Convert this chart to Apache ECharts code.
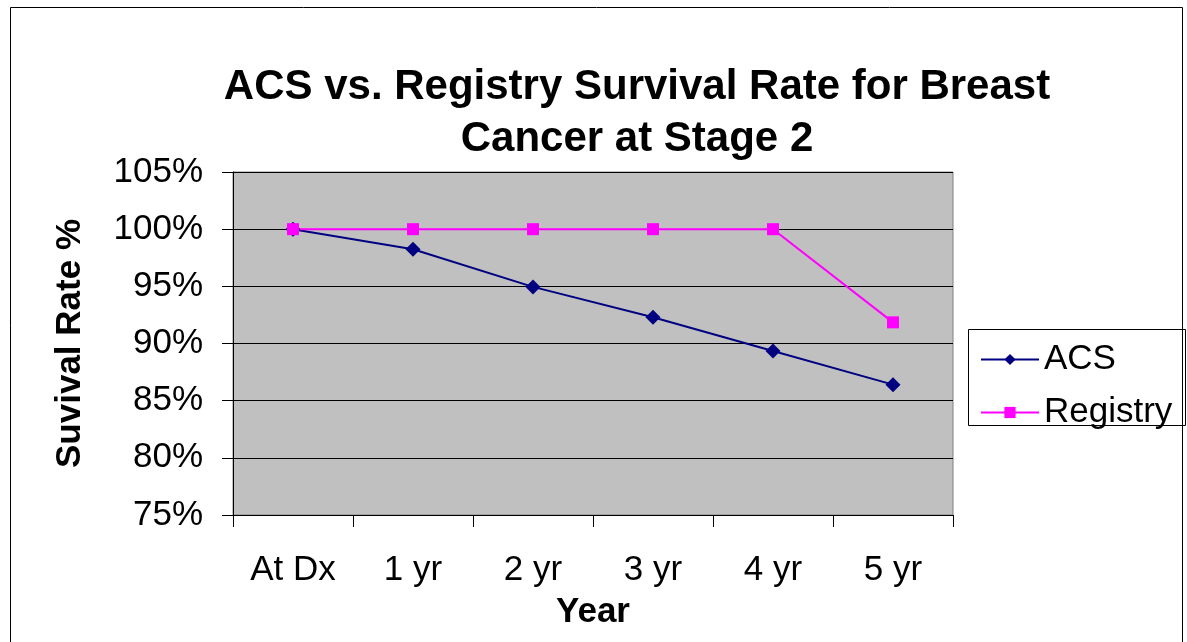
<!DOCTYPE html>
<html>
<head>
<meta charset="utf-8">
<script src="https://cdn.jsdelivr.net/npm/echarts@6/dist/echarts.min.js"></script>
<style>
  html, body { margin: 0; padding: 0; background: #fff; }
  #main { width: 1187px; height: 642px; }
</style>
</head>
<body>
<div id="main"></div>
<script>
var years = ['At Dx', '1 yr', '2 yr', '3 yr', '4 yr', '5 yr'];
var acs = [100, 98.25, 94.95, 92.3, 89.35, 86.4];
var registry = [100, 100, 100, 100, 100, 91.85];

var font = '"Liberation Sans", Arial, sans-serif';
var chart = echarts.init(document.getElementById('main'));

var option = {
  backgroundColor: '#fff',
  animation: false,
  graphic: [
    // chart border
    {
      type: 'rect',
      shape: { x: 10.5, y: 7.5, width: 1172, height: 700 },
      style: { fill: 'none', stroke: '#000', lineWidth: 1 },
      silent: true
    },
    // legend box
    {
      type: 'rect',
      shape: { x: 968.5, y: 329.5, width: 217, height: 96 },
      style: { fill: 'none', stroke: '#000', lineWidth: 1 },
      silent: true
    }
  ],
  title: {
    text: 'ACS vs. Registry Survival Rate for Breast\nCancer at Stage 2',
    left: 632,
    top: 56,
    textAlign: 'center',
    textStyle: { fontFamily: font, fontSize: 42, fontWeight: 'bold', color: '#000', lineHeight: 52 }
  },
  legend: {
    orient: 'vertical',
    left: 968,
    top: 329,
    padding: [13, 14, 0, 12],
    itemGap: 18,
    itemWidth: 58,
    itemHeight: 14,
    borderWidth: 0,
    textStyle: { fontFamily: font, fontSize: 35, color: '#000' },
    data: ['ACS', 'Registry']
  },
  grid: {
    left: 233, top: 172, right: 234, bottom: 127,
    show: true,
    backgroundColor: '#C0C0C0',
    borderColor: '#808080',
    borderWidth: 1
  },
  xAxis: {
    type: 'category',
    data: years,
    boundaryGap: true,
    name: 'Year',
    nameLocation: 'middle',
    nameGap: 80,
    nameTextStyle: { fontFamily: font, fontSize: 35, fontWeight: 'bold', color: '#000' },
    axisLine: { lineStyle: { color: '#000', width: 1 } },
    axisTick: { show: true, length: 12, lineStyle: { color: '#000' } },
    axisLabel: { fontFamily: font, fontSize: 35, color: '#000', margin: 38 },
    splitLine: { show: false }
  },
  yAxis: {
    type: 'value',
    min: 75,
    max: 105,
    interval: 5,
    name: 'Suvival Rate %',
    nameLocation: 'middle',
    nameGap: 145,
    nameTextStyle: { fontFamily: font, fontSize: 35, fontWeight: 'bold', color: '#000' },
    axisLine: { show: true, lineStyle: { color: '#000', width: 1 } },
    axisTick: { show: true, length: 11, lineStyle: { color: '#000' } },
    axisLabel: { fontFamily: font, fontSize: 35, color: '#000', margin: 30, formatter: '{value}%' },
    splitLine: { show: true, lineStyle: { color: '#000', width: 1 } }
  },
  series: [
    {
      name: 'ACS',
      type: 'line',
      data: acs,
      symbol: 'diamond',
      symbolSize: 15,
      itemStyle: { color: '#000080' },
      lineStyle: { color: '#000080', width: 2 }
    },
    {
      name: 'Registry',
      type: 'line',
      data: registry,
      symbol: 'rect',
      symbolSize: 12,
      itemStyle: { color: '#FF00FF' },
      lineStyle: { color: '#FF00FF', width: 2 }
    }
  ]
};
chart.setOption(option);
</script>
</body>
</html>
